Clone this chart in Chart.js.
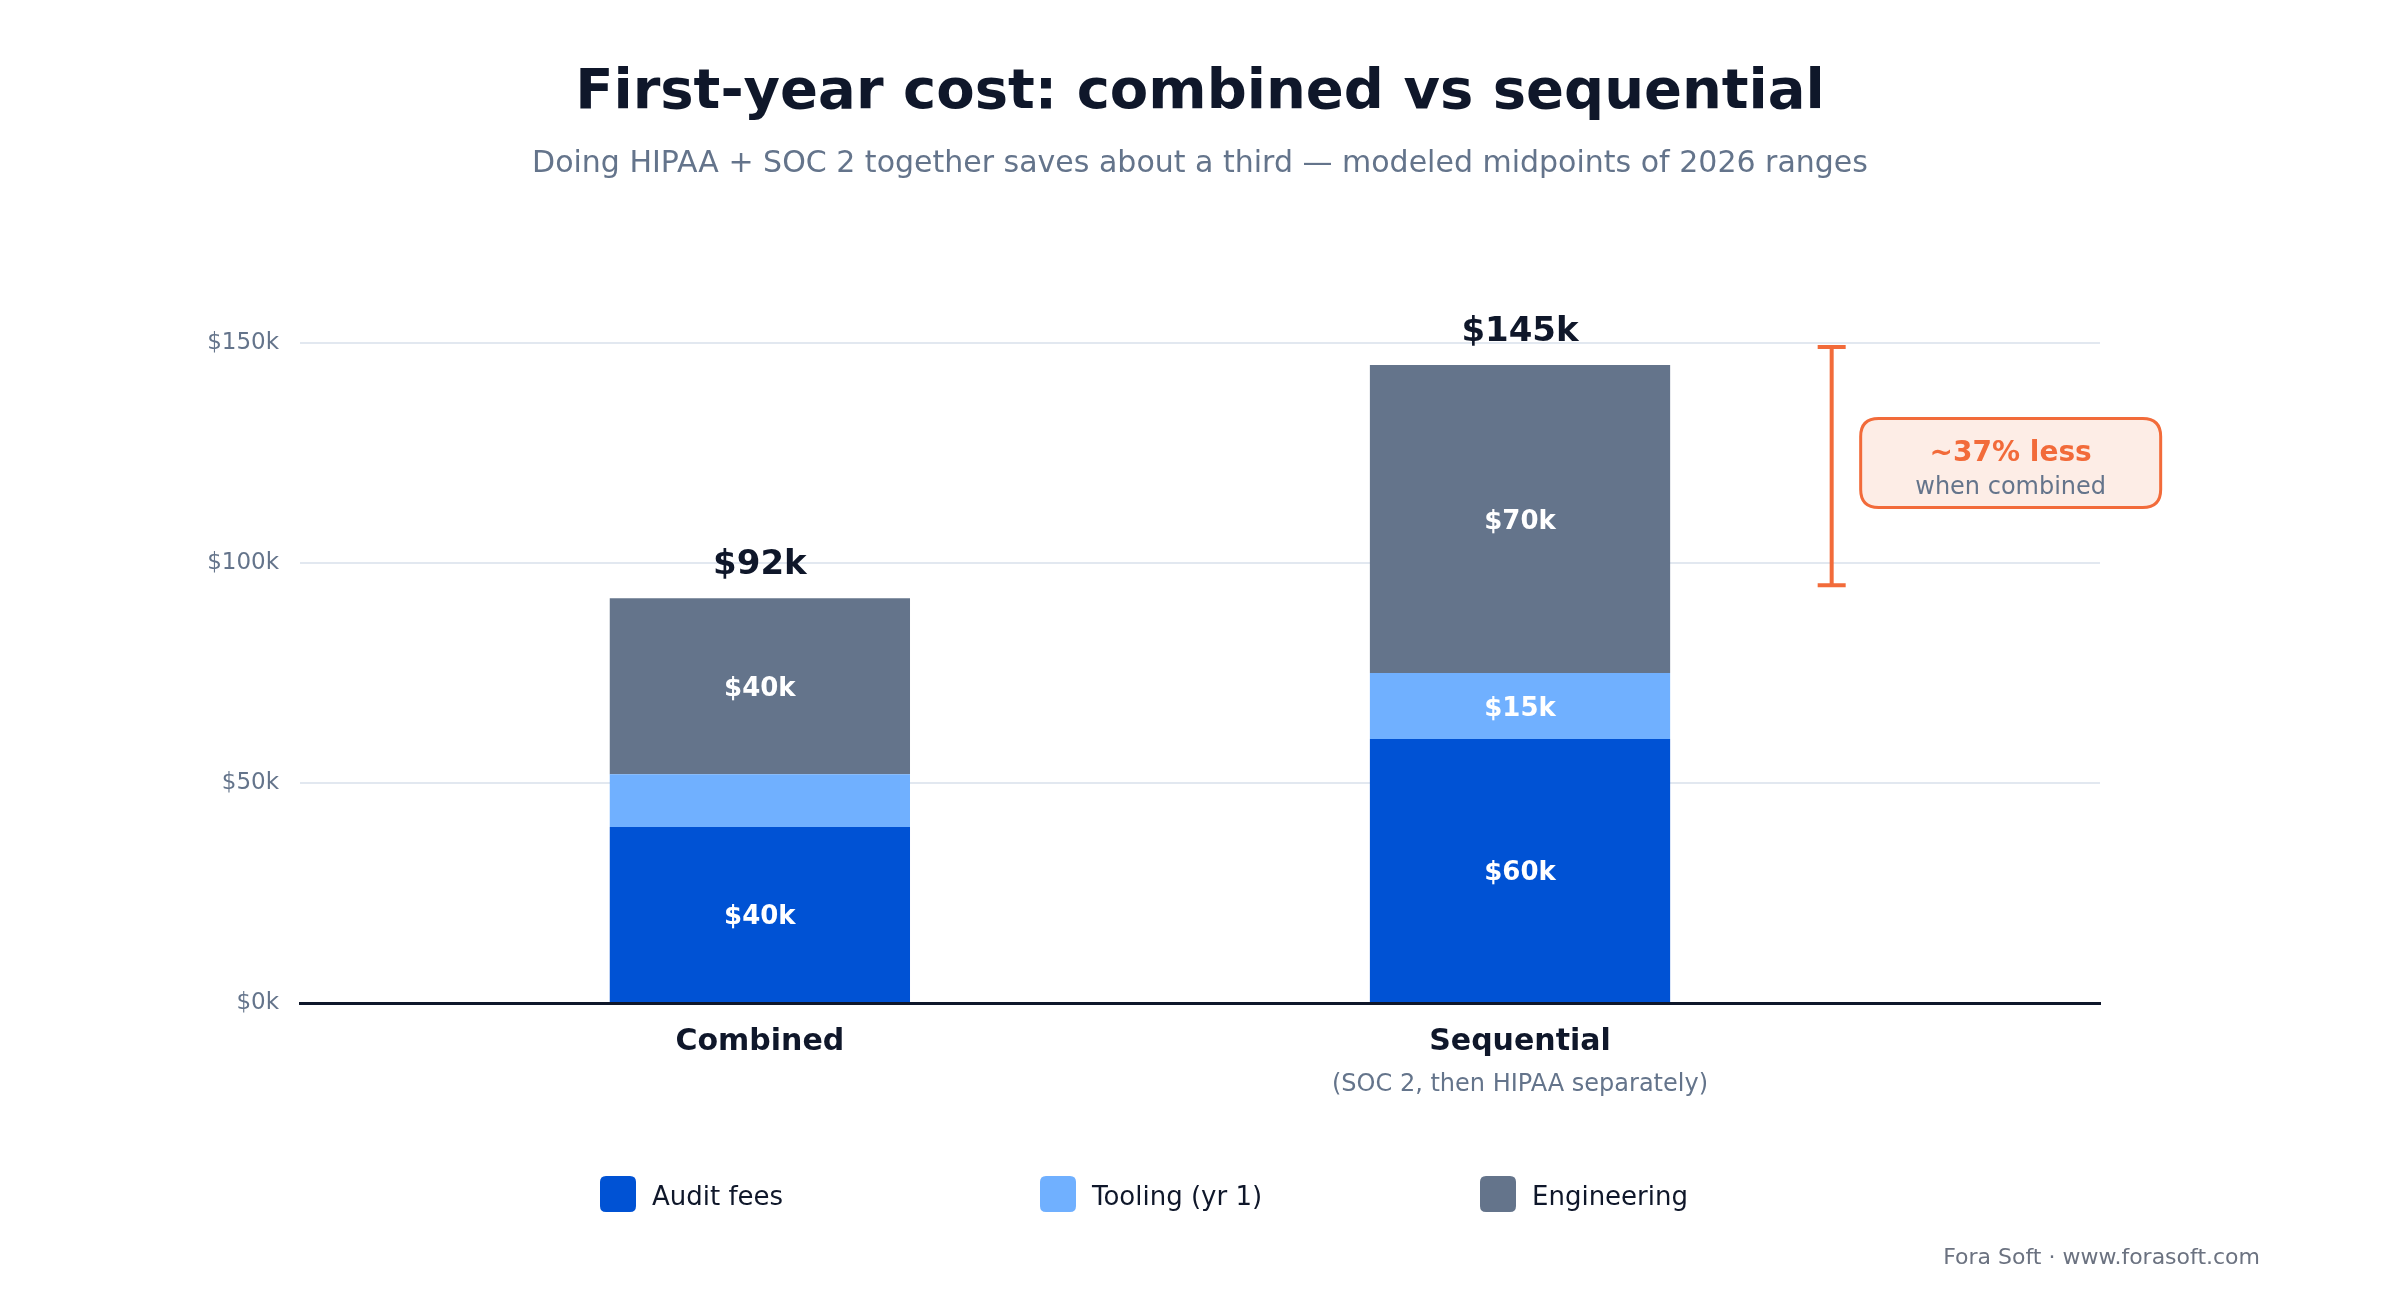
<!DOCTYPE html>
<html>
<head>
<meta charset="UTF-8">
<script src="https://cdn.jsdelivr.net/npm/chart.js@4.4.1/dist/chart.umd.min.js"></script>
<style>
  html, body { margin: 0; padding: 0; background: #ffffff; }
  #wrap { width: 2400px; height: 1300px; }
</style>
</head>
<body>
<div id="wrap"><canvas id="cost-chart" width="2400" height="1300"></canvas></div>
<script>
// chart values (thousands of USD, modeled midpoints)
var categories = ['Combined', 'Sequential'];
var categoryNotes = ['', '(SOC 2, then HIPAA separately)'];
var xPos = [0, 1];
var seriesNames = ['Audit fees', 'Tooling (yr 1)', 'Engineering'];
var auditFees = [40, 60];
var tooling = [12, 15];
var engineering = [40, 70];
var yTicks = [0, 50, 100, 150];

var FONT = '"DejaVu Sans", sans-serif';
var INK = '#0f172a';
var SLATE = '#64748b';
var ORANGE = '#f26b3a';
var seriesColors = ['#0052d4', '#70b0ff', '#64748b'];

var totals = categories.map(function(c, i) {
  return auditFees[i] + tooling[i] + engineering[i];
});

function toPoints(values) {
  return values.map(function(v, i) { return { x: xPos[i], y: v }; });
}

function roundRect(ctx, x, y, w, h, r) {
  ctx.beginPath();
  ctx.moveTo(x + r, y);
  ctx.lineTo(x + w - r, y);
  ctx.quadraticCurveTo(x + w, y, x + w, y + r);
  ctx.lineTo(x + w, y + h - r);
  ctx.quadraticCurveTo(x + w, y + h, x + w - r, y + h);
  ctx.lineTo(x + r, y + h);
  ctx.quadraticCurveTo(x, y + h, x, y + h - r);
  ctx.lineTo(x, y + r);
  ctx.quadraticCurveTo(x, y, x + r, y);
  ctx.closePath();
}

function text(ctx, str, x, y, size, bold, color, align) {
  ctx.font = (bold ? 'bold ' : '') + size + 'px ' + FONT;
  ctx.fillStyle = color;
  ctx.textAlign = align || 'center';
  ctx.textBaseline = 'alphabetic';
  ctx.fillText(str, x, y);
}

// labels, bracket, legend, titles
var decorations = {
  id: 'decorations',
  afterDraw: function(chart) {
    var ctx = chart.ctx;
    var xs = chart.scales.x, ys = chart.scales.y;
    ctx.save();

    // titles
    text(ctx, 'First-year cost: combined vs sequential', 1200, 108, 56, true, INK);
    text(ctx, 'Doing HIPAA + SOC 2 together saves about a third \u2014 modeled midpoints of 2026 ranges', 1200, 172, 30, false, SLATE);

    // segment labels
    chart.data.datasets.forEach(function(ds, d) {
      var meta = chart.getDatasetMeta(d);
      meta.data.forEach(function(bar, i) {
        var h = bar.base - bar.y;
        if (h < 60) return;
        text(ctx, '$' + ds.data[i].y + 'k', bar.x, (bar.y + bar.base) / 2 + 9.5, 26, true, '#ffffff');
      });
    });

    // totals + category notes
    totals.forEach(function(t, i) {
      var x = xs.getPixelForValue(xPos[i]);
      text(ctx, '$' + t + 'k', x, ys.getPixelForValue(t) - 24, 34, true, INK);
      if (categoryNotes[i]) text(ctx, categoryNotes[i], x, 1091, 24, false, SLATE);
    });

    // savings bracket
    var bx = xs.getPixelForValue(1.41);
    var top = ys.getPixelForValue(totals[1]) - 18;
    var bot = ys.getPixelForValue(totals[0]) - 13;
    ctx.strokeStyle = ORANGE;
    ctx.lineWidth = 4;
    ctx.beginPath();
    ctx.moveTo(bx, top); ctx.lineTo(bx, bot);
    ctx.moveTo(bx - 14, top); ctx.lineTo(bx + 14, top);
    ctx.moveTo(bx - 14, bot); ctx.lineTo(bx + 14, bot);
    ctx.stroke();

    var mid = (top + bot) / 2;
    var boxL = bx + 29, boxW = 300, boxH = 89;
    roundRect(ctx, boxL, mid - boxH / 2 - 3, boxW, boxH, 18);
    ctx.fillStyle = '#fdede6';
    ctx.fill();
    ctx.lineWidth = 3;
    ctx.stroke();
    var pct = Math.round((1 - totals[0] / totals[1]) * 100);
    text(ctx, '~' + pct + '% less', boxL + boxW / 2, mid - 5, 28, true, ORANGE);
    text(ctx, 'when combined', boxL + boxW / 2, mid + 28, 24, false, SLATE);

    // legend
    seriesNames.forEach(function(name, i) {
      var lx = 600 + i * 440;
      roundRect(ctx, lx, 1176, 36, 36, 6);
      ctx.fillStyle = seriesColors[i];
      ctx.fill();
      text(ctx, name, lx + 52, 1205, 26, false, INK, 'left');
    });

    // footer
    text(ctx, 'Fora Soft \u00b7 www.forasoft.com', 2260, 1264, 22, false, '#6b7280', 'right');

    ctx.restore();
  }
};

var ctx = document.getElementById('cost-chart');
var costChart = new Chart(ctx, {
  type: 'bar',
  data: {
    datasets: [
      { label: seriesNames[0], data: toPoints(auditFees), backgroundColor: seriesColors[0] },
      { label: seriesNames[1], data: toPoints(tooling), backgroundColor: seriesColors[1] },
      { label: seriesNames[2], data: toPoints(engineering), backgroundColor: seriesColors[2] }
    ]
  },
  options: {
    responsive: false,
    animation: false,
    layout: { padding: { top: 343, right: 300, bottom: 197, left: 0 } },
    datasets: { bar: { categoryPercentage: 1, barPercentage: 0.395, borderWidth: 0 } },
    plugins: { legend: { display: false }, title: { display: false }, tooltip: { enabled: false } },
    scales: {
      x: {
        type: 'linear',
        stacked: true,
        offset: false,
        min: -0.605,
        max: 1.763,
        afterBuildTicks: function(axis) {
          axis.ticks = xPos.map(function(v) { return { value: v }; });
        },
        afterFit: function(axis) { axis.height = 100; },
        grid: { display: false, drawTicks: false },
        border: { display: true, color: INK, width: 3 },
        ticks: {
          padding: 21,
          autoSkip: false,
          maxRotation: 0,
          color: INK,
          font: { family: FONT, size: 30, weight: 'bold' },
          callback: function(v, i) { return categories[i]; }
        }
      },
      y: {
        stacked: true,
        min: 0,
        max: 150,
        afterBuildTicks: function(axis) {
          axis.ticks = yTicks.map(function(v) { return { value: v }; });
        },
        afterFit: function(axis) { axis.width = 300; },
        grid: { color: '#e2e8f0', lineWidth: 2, drawTicks: false },
        border: { display: false },
        ticks: {
          padding: 21,
          color: SLATE,
          font: { family: FONT, size: 23 },
          callback: function(v) { return '$' + v + 'k'; }
        }
      }
    }
  },
  plugins: [decorations]
});
</script>
</body>
</html>
